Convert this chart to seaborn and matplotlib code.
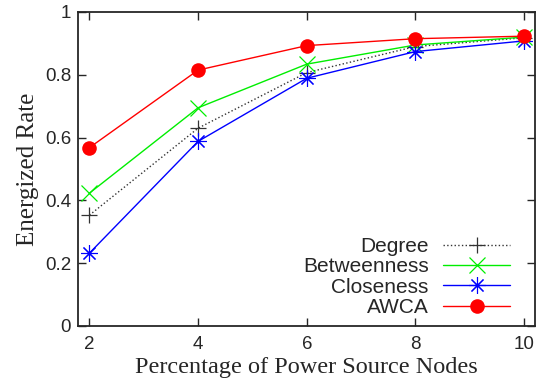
import matplotlib
matplotlib.use("Agg")
import matplotlib.pyplot as plt
import seaborn as sns
import pandas as pd
from matplotlib.ticker import FormatStrFormatter

x_vals = [2, 4, 6, 8, 10]
degree = [0.353, 0.630, 0.807, 0.890, 0.918]
betweenness = [0.423, 0.695, 0.834, 0.895, 0.920]
closeness = [0.232, 0.588, 0.789, 0.874, 0.908]
awca = [0.568, 0.815, 0.893, 0.915, 0.923]
series_names = ["Degree", "Betweenness", "Closeness", "AWCA"]

sns.set_style("ticks")
plt.rcParams["font.family"] = ["Liberation Sans", "DejaVu Sans"]

fig = plt.figure(figsize=(5.53, 3.92), dpi=100)
ax = fig.add_axes([78/553, 1-326/392, (535-78)/553, (326-12)/392])

styles = {
    "Degree": dict(color="#333333", ls=":", marker="+", ms=11, mew=0.9),
    "Betweenness": dict(color="#00ee00", ls="-", marker="x", ms=11, mew=0.9),
    "Closeness": dict(color="#0000ff", ls="-", marker=(8, 2, 0), ms=12, mew=0.8),
    "AWCA": dict(color="#ff0000", ls="-", marker="o", ms=10.5, mew=0),
}
data = {"Degree": degree, "Betweenness": betweenness, "Closeness": closeness, "AWCA": awca}

for name in series_names:
    df = pd.DataFrame({"x": x_vals, "y": data[name]})
    st = styles[name]
    sns.lineplot(data=df, x="x", y="y", ax=ax, label=name, color=st["color"],
                 linestyle=st["ls"], marker=st["marker"], markersize=st["ms"],
                 markeredgewidth=st["mew"], markeredgecolor=st["color"], lw=1.0)

ax.set_xlim(1.79, 10.2)
ax.set_ylim(0, 1)
ax.set_xticks(x_vals)
ax.set_yticks([0, 0.2, 0.4, 0.6, 0.8, 1.0])
ax.yaxis.set_major_formatter(FormatStrFormatter("%g"))
ax.tick_params(direction="in", length=6, width=1, top=True, right=True, labelsize=13.5, pad=5)
ax.tick_params(axis="x", pad=7)
for s in ax.spines.values():
    s.set_linewidth(1.3)
    s.set_visible(True)

ax.set_xlabel("Percentage of Power Source Nodes", family=["Liberation Serif"], fontsize=17.5, labelpad=3)
ax.set_ylabel("Energized Rate", family=["Liberation Serif"], fontsize=18, labelpad=4)

leg = ax.legend(loc="lower right", bbox_to_anchor=(0.945, 0.028), frameon=False, markerfirst=False,
                fontsize=15, handlelength=3.2, handletextpad=0.7, labelspacing=0.07,
                borderpad=0, borderaxespad=0)

fig.savefig("out.png", dpi=100)
